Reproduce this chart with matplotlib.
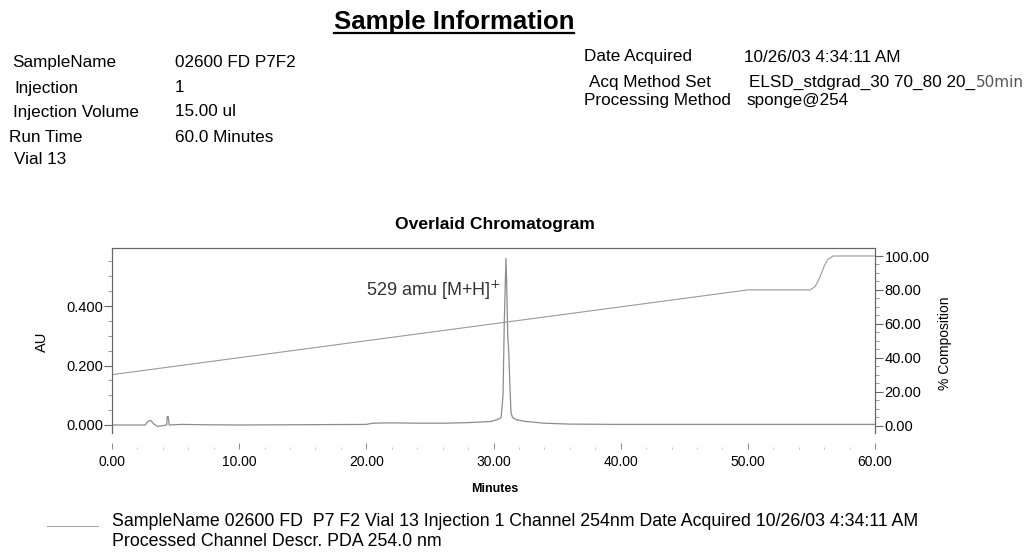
# Chromatogram report page: sample header, overlaid 254 nm trace with gradient, legend

import matplotlib
matplotlib.use("Agg")
import matplotlib.pyplot as plt
from matplotlib.lines import Line2D
from matplotlib.ticker import MultipleLocator, FixedLocator

plt.rcParams['font.family'] = ['Liberation Sans', 'DejaVu Sans']

# Sample header fields
left_labels = ["SampleName", "Injection", "Injection Volume", "Run Time", "Vial 13"]
left_values = ["02600 FD P7F2", "1", "15.00 ul", "60.0 Minutes", ""]
right_labels = ["Date Acquired", "Acq Method Set", "Processing Method"]
right_values = ["10/26/03 4:34:11 AM", "ELSD_stdgrad_30 70_80 20_", "sponge@254"]

# PDA 254 nm trace (minutes, AU)
trace_time = [0.0, 2.6, 2.85, 3.05, 3.3, 3.6, 4.0, 4.3, 4.35, 4.42, 4.5, 5.5, 7.0,
              10.0, 15.0, 20.0, 20.5, 21.5, 22.5, 24.0, 26.0, 28.0, 29.0, 29.8,
              30.3, 30.6, 30.75, 30.85, 30.98, 31.05, 31.12, 31.2, 31.3, 31.38,
              31.5, 31.8, 32.5, 34.0, 36.0, 40.0, 50.0, 60.0]
trace_au = [0.000, 0.000, 0.013, 0.015, 0.003, -0.005, -0.002, 0.000, 0.028, 0.028,
            0.000, 0.002, 0.001, 0.000, 0.001, 0.002, 0.006, 0.007, 0.007, 0.006,
            0.006, 0.008, 0.010, 0.012, 0.018, 0.025, 0.100, 0.350, 0.560, 0.450,
            0.300, 0.245, 0.120, 0.040, 0.025, 0.018, 0.012, 0.006, 0.003, 0.002,
            0.002, 0.002]

# Solvent gradient (% composition)
grad_time = [0.0, 50.0, 54.9, 55.3, 55.7, 56.0, 56.3, 56.7, 60.0]
grad_comp = [30.0, 80.0, 80.0, 82.0, 88.0, 94.0, 98.0, 100.0, 100.0]

W, H = 1030, 553
fig = plt.figure(figsize=(W / 100, H / 100), dpi=100)
fig.patch.set_facecolor('white')


def px(x, y):
    return x / W, 1 - y / H


# header
title = fig.text(*px(454, 22), "Sample Information", fontsize=18.5, fontweight='bold',
                 ha='center', va='center')
left_y = [63, 88, 112, 137, 160]
left_x = [12, 14, 13, 9, 14]
for lab, val, y, x in zip(left_labels, left_values, left_y, left_x):
    fig.text(*px(x, y), lab, fontsize=12.3, va='center')
    if val:
        fig.text(*px(175, y), val, fontsize=12.3, va='center')

right_y = [57, 82, 100]
right_x = [584, 589, 584]
value_x = [744, 749, 746]
for lab, val, y, x, vx in zip(right_labels, right_values, right_y, right_x, value_x):
    fig.text(*px(x, y), lab, fontsize=12.3, va='center')
    fig.text(*px(vx, y), val, fontsize=12.3, va='center')
fig.text(*px(976, 82), "50min", fontsize=11, va='center', color='#555555',
         family='DejaVu Sans')

fig.text(*px(495, 225), "Overlaid Chromatogram", fontsize=12.6, fontweight='bold',
         ha='center', va='center')

# chart axes
ax = fig.add_axes([112 / W, (H - 433) / H, 763 / W, 185 / H])
ax.plot(trace_time, trace_au, color='#8c8c8c', lw=0.9)
ax.set_xlim(0, 60)
ax.set_ylim(-8 / 297.5, 177 / 297.5)

ax2 = ax.twinx()
ax2.plot(grad_time, grad_comp, color='#9a9a9a', lw=0.8)
ax2.set_ylim(-7.5 / 1.695, 100 + 8 / 1.695)

spine_col = '#666666'
for a in (ax, ax2):
    for s in a.spines.values():
        s.set_color(spine_col)
        s.set_linewidth(0.8)
    a.spines['bottom'].set_position(('outward', 11.5))
    a.spines['bottom'].set_visible(False)
ax.spines['top'].set_color('#777777')

ax.yaxis.set_major_locator(FixedLocator([0.0, 0.2, 0.4]))
ax.yaxis.set_minor_locator(MultipleLocator(0.05))
ax.set_yticklabels(["0.000", "0.200", "0.400"])
ax.tick_params(axis='y', which='major', length=6, width=0.8, color=spine_col,
               pad=0, labelsize=10.5)
ax.tick_params(axis='y', which='minor', length=3, width=0.6, color='#888888')

ax.xaxis.set_major_locator(MultipleLocator(10))
ax.xaxis.set_minor_locator(MultipleLocator(2))
ax.set_xticklabels([f"{v:.2f}" for v in ax.get_xticks()])
ax.tick_params(axis='x', which='major', direction='in', length=4, width=0.7,
               color='#888888', pad=4, labelsize=10)
ax.tick_params(axis='x', which='minor', direction='in', length=1.5, width=0.6,
               color='#bbbbbb')

ax2.yaxis.set_major_locator(MultipleLocator(20))
ax2.yaxis.set_minor_locator(MultipleLocator(5))
ax2.set_yticks([0, 20, 40, 60, 80, 100])
ax2.set_yticklabels([f"{v:.2f}" for v in [0, 20, 40, 60, 80, 100]])
ax2.tick_params(axis='y', which='major', length=6, width=0.8, color=spine_col,
                pad=1, labelsize=10.5)
ax2.tick_params(axis='y', which='minor', length=3, width=0.6, color='#888888')

fig.text(*px(42, 342), "AU", fontsize=10.5, rotation=90, ha='center', va='center')
fig.text(*px(945, 343), "% Composition", fontsize=10, rotation=90, ha='center',
         va='center')
fig.text(*px(495, 489), "Minutes", fontsize=9, fontweight='bold', ha='center',
         va='center')

ax.text(30.6, 0.452, "529 amu [M+H]$^{+}$", fontsize=13, color='#333333',
        ha='right', va='center')

# legend entry below the chart
fig.add_artist(Line2D([47 / W, 98 / W], [1 - 526 / H, 1 - 526 / H], color='#aaaaaa',
                      lw=0.8))
fig.text(*px(112, 521), "SampleName 02600 FD  P7 F2 Vial 13 Injection 1 Channel 254nm "
         "Date Acquired 10/26/03 4:34:11 AM", fontsize=12.8, va='center')
fig.text(*px(112, 541), "Processed Channel Descr. PDA 254.0 nm", fontsize=12.8,
         va='center')

# underline the page heading
fig.canvas.draw()
bb = title.get_window_extent().transformed(fig.transFigure.inverted())
fig.add_artist(Line2D([bb.x0, bb.x1], [bb.y0 + 0.002, bb.y0 + 0.002], color='black',
                      lw=1.6))

fig.savefig("out.png", dpi=100)
